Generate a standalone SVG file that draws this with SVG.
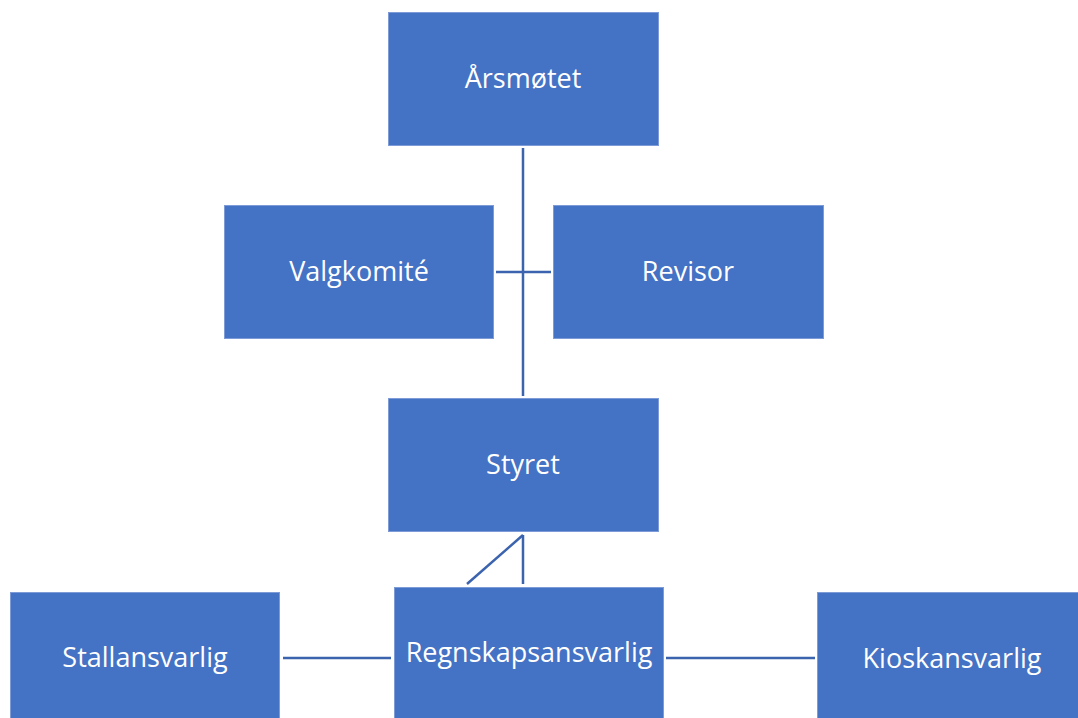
<svg xmlns="http://www.w3.org/2000/svg" width="1078" height="718" viewBox="0 0 1078 718">
<style>
.box{fill:#4472C4;stroke:#7D9BD6;stroke-width:1}
.lbl{font-family:"Open Sans","Liberation Sans",sans-serif;font-size:27px;fill:#FFFFFF;text-anchor:middle}
.con{stroke:#3B63AE;stroke-width:2.5;fill:none}
</style>
<rect width="1078" height="718" fill="#FFFFFF"/>
<g id="connectors">
<line class="con" x1="523" y1="148" x2="523" y2="396"/>
<line class="con" x1="496" y1="272" x2="551" y2="272"/>
<line class="con" x1="523" y1="535" x2="523" y2="584"/>
<line class="con" x1="523" y1="535" x2="467" y2="584"/>
<line class="con" x1="283" y1="658" x2="391" y2="658"/>
<line class="con" x1="666" y1="658" x2="815" y2="658"/>
</g>
<g id="arsmotet"><rect class="box" x="388.5" y="12.5" width="270" height="133"/><text class="lbl" x="523" y="88">Årsmøtet</text></g>
<g id="valgkomite"><rect class="box" x="224.5" y="205.5" width="269" height="133"/><text class="lbl" x="359" y="281">Valgkomité</text></g>
<g id="revisor"><rect class="box" x="553.5" y="205.5" width="270" height="133"/><text class="lbl" x="688" y="281">Revisor</text></g>
<g id="styret"><rect class="box" x="388.5" y="398.5" width="270" height="133"/><text class="lbl" x="523" y="474">Styret</text></g>
<g id="regnskapsansvarlig"><rect class="box" x="394.5" y="587.5" width="269" height="133"/><text class="lbl" x="529" y="662">Regnskapsansvarlig</text></g>
<g id="stallansvarlig"><rect class="box" x="10.5" y="592.5" width="269" height="133"/><text class="lbl" x="145" y="667">Stallansvarlig</text></g>
<g id="kioskansvarlig"><rect class="box" x="817.5" y="592.5" width="270" height="133"/><text class="lbl" x="952" y="668">Kioskansvarlig</text></g>
</svg>
